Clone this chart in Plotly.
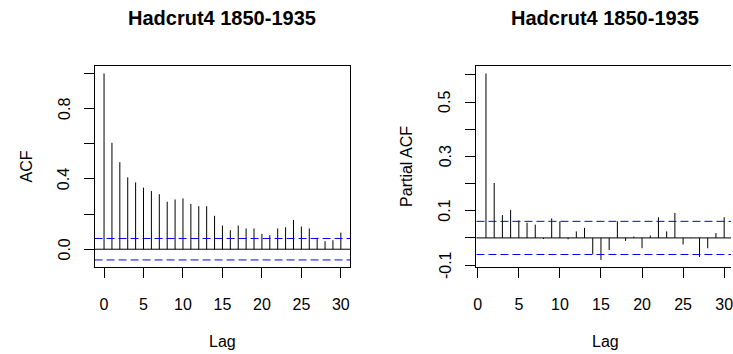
import numpy as np
import plotly.graph_objects as go

# ---------------- data ----------------
title_text = "Hadcrut4 1850-1935"
n_obs = 1032  # monthly observations 1850-1935

acf_lags = list(range(0, 31))
acf_vals = [1.000, 0.606, 0.495, 0.409, 0.380, 0.350, 0.331, 0.313, 0.270, 0.283,
            0.289, 0.258, 0.245, 0.245, 0.190, 0.135, 0.108, 0.135, 0.118, 0.118,
            0.087, 0.080, 0.118, 0.125, 0.167, 0.129, 0.118, 0.065, 0.046, 0.051,
            0.095]

pacf_lags = list(range(1, 31))
pacf_vals = [0.605, 0.202, 0.084, 0.103, 0.064, 0.056, 0.049, -0.004, 0.072, 0.061,
             -0.005, 0.024, 0.037, -0.060, -0.081, -0.045, 0.061, -0.011, 0.005, -0.038,
             0.009, 0.076, 0.024, 0.092, -0.024, -0.001, -0.070, -0.038, 0.018, 0.076]

x_tick_vals = [0, 5, 10, 15, 20, 25, 30]
acf_y_ticks = [0.0, 0.2, 0.4, 0.6, 0.8, 1.0]
acf_y_labels = ["0.0", "", "0.4", "", "0.8", ""]
pacf_y_ticks = [-0.1, 0.0, 0.1, 0.2, 0.3, 0.4, 0.5, 0.6]
pacf_y_labels = ["-0.1", "", "0.1", "", "0.3", "", "0.5", ""]

# ---------------- layout geometry ----------------
W, H = 733, 354
FONT = "Liberation Sans, Arial, sans-serif"
ci = 1.96 / np.sqrt(n_obs)


def r_range(lo, hi):
    ext = 0.04 * (hi - lo)
    return [lo - ext, hi + ext]


acf_xr = r_range(min(acf_lags), max(acf_lags))
acf_yr = r_range(min(min(acf_vals), -ci), max(max(acf_vals), ci))
pacf_xr_full = r_range(min(pacf_lags), max(pacf_lags))
pacf_yr = r_range(min(min(pacf_vals), -ci), max(max(pacf_vals), ci))

# pixel boxes
L_left, L_right = 92.2, 349.7
R_left, R_full_w = 476.7, 259.0
top_px, bot_px = 66.0, 267.4

R_right = min(W, R_left + R_full_w)
frac = (R_right - R_left) / R_full_w
pacf_xr = [pacf_xr_full[0], pacf_xr_full[0] + frac * (pacf_xr_full[1] - pacf_xr_full[0])]

ydom = [1 - bot_px / H, 1 - top_px / H]


def stems(lags, vals):
    xs, ys = [], []
    for l, v in zip(lags, vals):
        xs += [l, l, None]
        ys += [0, v, None]
    return xs, ys


fig = go.Figure()
ax, ay = stems(acf_lags, acf_vals)
fig.add_trace(go.Scatter(x=ax, y=ay, mode="lines", line=dict(color="black", width=1),
                         xaxis="x", yaxis="y", showlegend=False, hoverinfo="skip"))
px_, py_ = stems(pacf_lags, pacf_vals)
fig.add_trace(go.Scatter(x=px_, y=py_, mode="lines", line=dict(color="black", width=1),
                         xaxis="x2", yaxis="y2", showlegend=False, hoverinfo="skip"))

shapes = []
for xr_, yr_ in (("x domain", "y"), ("x2 domain", "y2")):
    shapes.append(dict(type="line", xref=xr_, yref=yr_, x0=0, x1=1, y0=0, y1=0,
                       line=dict(color="black", width=1)))
    for s in (ci, -ci):
        shapes.append(dict(type="line", xref=xr_, yref=yr_, x0=0, x1=1, y0=s, y1=s,
                           line=dict(color="#0000FF", width=1, dash="8px,4px")))

axis_common = dict(showgrid=False, zeroline=False, showline=True, linecolor="black",
                   linewidth=1, ticks="outside", ticklen=10, tickcolor="black",
                   tickwidth=1, tickfont=dict(family=FONT, size=16, color="black"))

fig.update_layout(
    width=W, height=H, margin=dict(l=0, r=0, t=0, b=0),
    paper_bgcolor="white", plot_bgcolor="white",
    shapes=shapes,
    xaxis=dict(domain=[L_left / W, L_right / W], range=acf_xr, tickvals=x_tick_vals,
               mirror=True, anchor="y", ticklabelstandoff=12,
               ticklabeloverflow="allow", **axis_common),
    yaxis=dict(domain=ydom, range=acf_yr, tickvals=acf_y_ticks, showticklabels=False,
               mirror=True, anchor="x", **axis_common),
    xaxis2=dict(domain=[R_left / W, R_right / W], range=pacf_xr, tickvals=x_tick_vals,
                mirror=True, anchor="y2", ticklabelstandoff=12,
                ticklabeloverflow="allow", **axis_common),
    yaxis2=dict(domain=ydom, range=pacf_yr, tickvals=pacf_y_ticks, showticklabels=False,
                mirror=False, anchor="x2", **axis_common),
)

L_c = (L_left + L_right) / 2 / W
R_c = (R_left + R_full_w / 2) / W
tick_font = dict(family=FONT, size=16, color="black")
ann = []
for xc in (L_c, R_c):
    ann.append(dict(text="<b>" + title_text + "</b>", x=xc, y=1 - 18 / H, xref="paper",
                    yref="paper", showarrow=False, xanchor="center", yanchor="middle",
                    font=dict(family=FONT, size=20, color="black")))
    ann.append(dict(text="Lag", x=xc, y=1 - 341 / H, xref="paper", yref="paper",
                    showarrow=False, xanchor="center", yanchor="middle",
                    font=dict(family=FONT, size=16, color="black")))
ymid = 1 - (top_px + bot_px) / 2 / H
ann.append(dict(text="ACF", x=24 / W, y=ymid, xref="paper", yref="paper", textangle=-90,
                showarrow=False, xanchor="center", yanchor="middle", font=tick_font))
ann.append(dict(text="Partial ACF", x=406 / W, y=ymid, xref="paper", yref="paper",
                textangle=-90, showarrow=False, xanchor="center", yanchor="middle",
                font=tick_font))
# rotated y tick labels (R style), positioned on the axis scales
for v, t in zip(acf_y_ticks, acf_y_labels):
    if t:
        ann.append(dict(text=t, x=61.7 / W, y=v, xref="paper", yref="y", textangle=-90,
                        showarrow=False, xanchor="center", yanchor="middle", font=tick_font))
for v, t in zip(pacf_y_ticks, pacf_y_labels):
    if t:
        ann.append(dict(text=t, x=445 / W, y=v, xref="paper", yref="y2", textangle=-90,
                        showarrow=False, xanchor="center", yanchor="middle", font=tick_font))
fig.update_layout(annotations=ann)

fig.write_html("out.html")
